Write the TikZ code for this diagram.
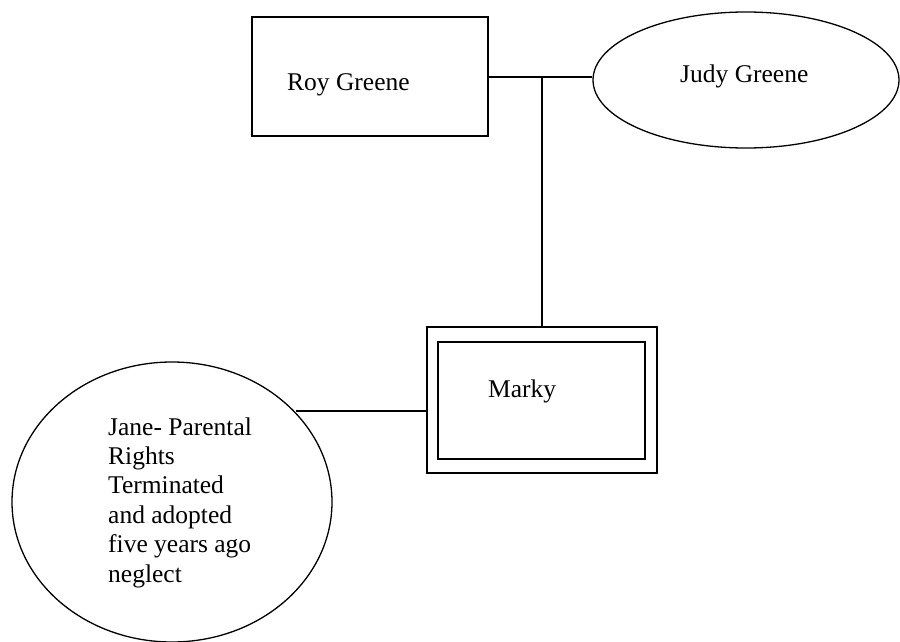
\documentclass[tikz,border=0pt]{standalone}
\usepackage{fontspec}
\setmainfont{Liberation Serif}
\usetikzlibrary{shapes.geometric}
\begin{document}
\begin{tikzpicture}[x=1pt,y=-1pt,
  ln/.style={line width=1.3pt},
  lbl/.style={inner sep=0pt,anchor=base west,font=\fontsize{25.5}{29.4}\selectfont}]
\useasboundingbox (0,0) rectangle (900,642);
\node[ln,draw,rectangle,minimum width=236,minimum height=119,inner sep=0pt] (roy) at (370,76.5) {};
\node[ln,draw,ellipse,minimum width=306,minimum height=136,inner sep=0pt] (judy) at (746,80) {};
\node[ln,draw,rectangle,minimum width=230,minimum height=146,inner sep=0pt] (marky) at (542,400) {};
\node[ln,draw,rectangle,minimum width=207,minimum height=117,inner sep=0pt] (markyin) at (541.5,400.5) {};
\node[ln,draw,ellipse,minimum width=320,minimum height=280,inner sep=0pt] (jane) at (172,502) {};
\node[lbl] (roytxt) at (287,91) {Roy Greene};
\node[lbl] (judytxt) at (680,82) {Judy Greene};
\node[lbl] (markytxt) at (488,397) {Marky};
\node[lbl] (j1) at (108,435) {Jane- Parental};
\node[lbl] (j2) at (108,464.4) {Rights};
\node[lbl] (j3) at (108,493.8) {Terminated};
\node[lbl] (j4) at (108,523.2) {and adopted};
\node[lbl] (j5) at (108,552.6) {five years ago};
\node[lbl] (j6) at (108,582) {neglect};
\coordinate (mid) at (542,77);
\draw[ln] (roy.east |- mid) -- (mid) -- (judy.west |- mid);
\draw[ln] (mid) -- (marky.north);
\coordinate (jl) at (296,411);
\draw[ln] (jl) -- (marky.west |- jl);
\end{tikzpicture}
\end{document}
